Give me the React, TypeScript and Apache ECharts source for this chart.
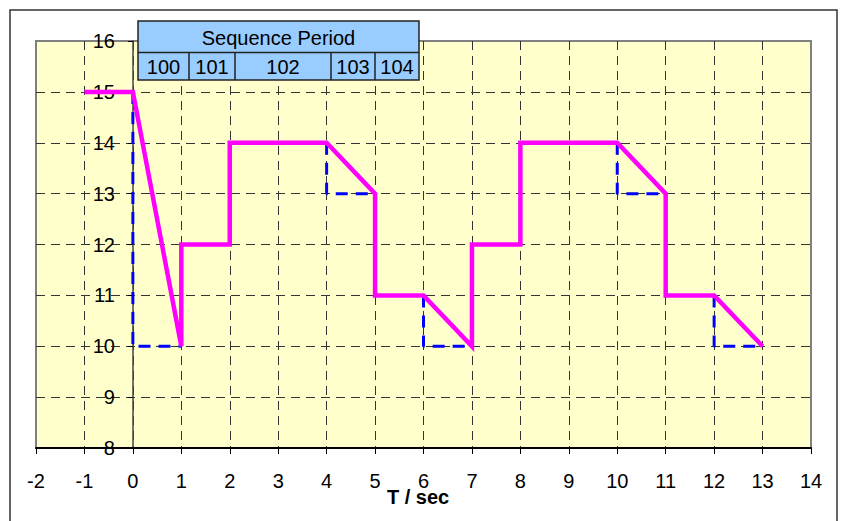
import React, { useEffect, useRef } from "react";
import * as echarts from "echarts";

// Axis ranges
const xMin = -2;
const xMax = 14;
const yMin = 8;
const yMax = 16;
const tickStep = 1;
const yAxisAtX = 0; // the value axis crosses the time axis at T = 0

// Magenta profile (T / sec, value)
const profileX = [-1, 0, 1, 1, 2, 2, 4, 5, 5, 6, 7, 7, 8, 8, 10, 11, 11, 12, 13];
const profileY = [15, 15, 10, 12, 12, 14, 14, 13, 11, 11, 10, 12, 12, 14, 14, 13, 11, 11, 10];

// Blue dashed step guides, one per ramp
const stepX = [
  [0, 0, 1],
  [4, 4, 5],
  [6, 6, 7],
  [10, 10, 11],
  [12, 12, 13],
];
const stepY = [
  [15, 10, 10],
  [14, 13, 13],
  [11, 10, 10],
  [14, 13, 13],
  [11, 10, 10],
];

// Table texts
const tableTitle = "Sequence Period";
const periodLabels = ["100", "101", "102", "103", "104"];
const xAxisTitle = "T / sec";

const FONT = "'Liberation Sans', Arial, sans-serif";

export default function App() {
  const ref = useRef<HTMLDivElement>(null);

  useEffect(() => {
    if (!ref.current) return;
    const chart = echarts.init(ref.current, null, { renderer: "svg" });

    const gridLeft = 36;
    const gridRight = 31;
    const plotW = 842 - gridLeft - gridRight;
    const yAxisOffset = -((yAxisAtX - xMin) / (xMax - xMin)) * plotW;

    const profile = profileX.map((x, i) => [x, profileY[i]]);
    const stepSeries = stepX.map((xs, k) => ({
      type: "line",
      data: xs.map((x, i) => [x, stepY[k][i]]),
      symbol: "none",
      z: 3,
      lineStyle: { color: "#0000FF", width: 3, type: [12, 8] },
      silent: true,
    }));

    // table layout (pixels)
    const colEdges = [138, 189, 235, 331, 375, 419];
    const tTop = 21;
    const tMid = 52.5;
    const tBot = 80;
    const tableEls: any[] = [];
    tableEls.push({
      type: "rect",
      shape: { x: colEdges[0], y: tTop, width: colEdges[5] - colEdges[0], height: tBot - tTop },
      style: { fill: "#99CCFF", stroke: "#222", lineWidth: 1.5 },
      z: 10,
    });
    tableEls.push({
      type: "line",
      shape: { x1: colEdges[0], y1: tMid, x2: colEdges[5], y2: tMid },
      style: { stroke: "#222", lineWidth: 1.5 },
      z: 11,
    });
    for (let i = 1; i < colEdges.length - 1; i++) {
      tableEls.push({
        type: "line",
        shape: { x1: colEdges[i], y1: tMid, x2: colEdges[i], y2: tBot },
        style: { stroke: "#222", lineWidth: 1.5 },
        z: 11,
      });
    }
    tableEls.push({
      type: "text",
      x: (colEdges[0] + colEdges[5]) / 2,
      y: (tTop + tMid) / 2 + 1,
      style: {
        text: tableTitle,
        font: `20px ${FONT}`,
        fill: "#000",
        align: "center",
        verticalAlign: "middle",
      },
      z: 12,
    });
    periodLabels.forEach((lab, i) => {
      tableEls.push({
        type: "text",
        x: (colEdges[i] + colEdges[i + 1]) / 2,
        y: (tMid + tBot) / 2 + 1,
        style: {
          text: lab,
          font: `20px ${FONT}`,
          fill: "#000",
          align: "center",
          verticalAlign: "middle",
        },
        z: 12,
      });
    });

    const option: any = {
      animation: false,
      backgroundColor: "#FFFFFF",
      grid: {
        left: gridLeft,
        top: 41,
        right: gridRight,
        bottom: 73,
        show: true,
        backgroundColor: "#FFFFCC",
        borderColor: "#808080",
        borderWidth: 2,
      },
      xAxis: {
        type: "value",
        min: xMin,
        max: xMax,
        interval: tickStep,
        axisLine: { onZero: false, lineStyle: { color: "#000", width: 2 } },
        axisTick: { show: true, length: 6, lineStyle: { color: "#000", width: 1 } },
        axisLabel: { color: "#000", fontSize: 20, fontFamily: FONT, margin: 23 },
        splitLine: {
          show: true,
          showMinLine: false,
          showMaxLine: false,
          lineStyle: { color: "#333", width: 1, type: [9, 6] },
        },
      },
      yAxis: {
        type: "value",
        min: yMin,
        max: yMax,
        interval: tickStep,
        position: "left",
        offset: yAxisOffset,
        axisLine: { show: true, onZero: false, lineStyle: { color: "#444", width: 1.5 } },
        axisTick: { show: true, length: 5, lineStyle: { color: "#000", width: 1 } },
        axisLabel: { color: "#000", fontSize: 20, fontFamily: FONT, margin: 18 },
        splitLine: {
          show: true,
          showMinLine: false,
          showMaxLine: false,
          lineStyle: { color: "#333", width: 1, type: [9, 6] },
        },
      },
      series: [
        ...stepSeries,
        {
          type: "line",
          data: profile,
          symbol: "none",
          z: 4,
          lineStyle: { color: "#FF00FF", width: 4.5, join: "miter" },
          silent: true,
        },
      ],
      graphic: [
        {
          type: "rect",
          shape: { x: 10, y: 10, width: 827, height: 540 },
          style: { fill: "none", stroke: "#333", lineWidth: 1.5 },
          silent: true,
          z: 20,
        },
        {
          type: "text",
          x: 418,
          y: 497,
          style: {
            text: xAxisTitle,
            font: `bold 20px ${FONT}`,
            fill: "#000",
            align: "center",
            verticalAlign: "middle",
          },
          z: 12,
        },
        ...tableEls,
      ],
    };

    chart.setOption(option);
    return () => chart.dispose();
  }, []);

  return (
    <div
      ref={ref}
      style={{ position: "fixed", left: 0, top: 0, width: 842, height: 521 }}
    />
  );
}
